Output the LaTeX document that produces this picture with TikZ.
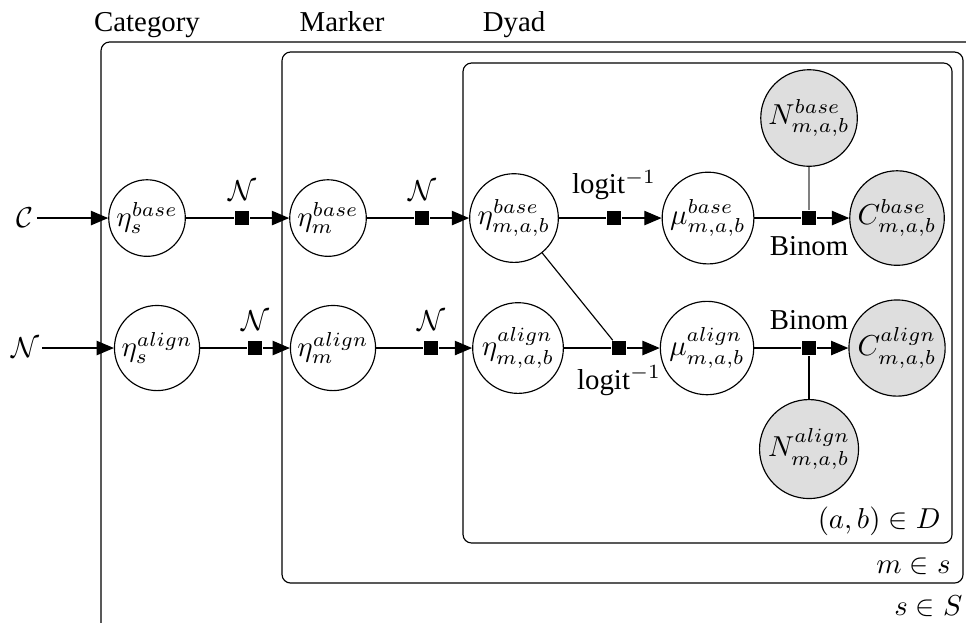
\documentclass[tikz,border=0pt]{standalone}
\usepackage[no-math]{fontspec}
\setmainfont{Liberation Serif}
\usepackage{amsmath}
\usepackage{amssymb}
\usetikzlibrary{arrows.meta}

\begin{document}
\begin{tikzpicture}[latent/.style={
                        circle,
                        draw=black,
                        fill=white,
                        inner sep=1pt,
                        minimum size=20pt},
                    obs/.style={latent,fill=black!13},
                    factor/.style={rectangle,fill=black,inner sep=0pt,minimum size=5pt},
                    edge/.style={-{Triangle[length=6pt,width=5pt]}},
                    plate/.style={rounded corners=3pt},
                    plate label/.style={anchor=east,inner sep=0pt}]
\useasboundingbox (0,0) rectangle (11.78,-7.585);
\clip (0,0) rectangle (11.78,-7.585); % the outer plate runs past the frame
\def\ya{-2.659}\def\yb{-4.244} % the two rows
% plates
\draw[plate] (1.232,-8.3) rectangle (12.5,-0.512);
\draw[plate] (3.439,-7.110) rectangle (11.744,-0.634);
\draw[plate] (5.646,-6.622) rectangle (11.610,-0.768);
\node[plate label] (lblS) at (11.744,-7.39) {$s \in S$};
\node[plate label] (lblM) at (11.598,-6.902) {$m \in s$};
\node[plate label] (lblD) at (11.476,-6.354) {$(a,b) \in D$};
\node[anchor=base] (titleS) at (1.793,-0.39) {Category};
\node[anchor=base] (titleM) at (4.171,-0.39) {Marker};
\node[anchor=base] (titleD) at (6.268,-0.39) {Dyad};
% priors
\node[inner sep=1pt] (priorC) at (0.305,\ya) {$\mathcal{C}$};
\node[inner sep=1pt] (priorN) at (0.305,\yb) {$\mathcal{N}$};
% variables
\node[latent] (etaSb) at (1.793,\ya) {$\eta_s^{base}$};
\node[latent] (etaSa) at (1.915,\yb) {$\eta_s^{align}$};
\node[latent] (etaMb) at (4.0,\ya) {$\eta_m^{base}$};
\node[latent] (etaMa) at (4.061,\yb) {$\eta_m^{align}$};
\node[latent] (etaDb) at (6.268,\ya) {$\eta_{m,a,b}^{base}$};
\node[latent] (etaDa) at (6.317,\yb) {$\eta_{m,a,b}^{align}$};
\node[latent] (muDb) at (8.634,\ya) {$\mu_{m,a,b}^{base}$};
\node[latent] (muDa) at (8.622,\yb) {$\mu_{m,a,b}^{align}$};
\node[obs] (CDb) at (10.939,\ya) {$C_{m,a,b}^{base}$};
\node[obs] (CDa) at (10.939,\yb) {$C_{m,a,b}^{align}$};
\node[obs] (NDb) at (9.866,-1.439) {$N_{m,a,b}^{base}$};
\node[obs] (NDa) at (9.866,-5.476) {$N_{m,a,b}^{align}$};
% factors
\node[factor,label=above:$\mathcal{N}$] (fSb) at (2.951,\ya) {};
\node[factor,label=above:$\mathcal{N}$] (fSa) at (3.110,\yb) {};
\node[factor,label=above:$\mathcal{N}$] (fMb) at (5.146,\ya) {};
\node[factor,label=above:$\mathcal{N}$] (fMa) at (5.256,\yb) {};
\node[factor,label=above:logit$^{-1}$] (fLb) at (7.488,\ya) {};
\node[factor,label=below:logit$^{-1}$] (fLa) at (7.549,\yb) {};
\node[factor,label=below:Binom] (fBb) at (9.866,\ya) {};
\node[factor,label=above:Binom] (fBa) at (9.866,\yb) {};
% connectors
\draw[edge] (priorC) -- (etaSb);
\draw[edge] (priorN) -- (etaSa);
\draw (etaSb) -- (fSb); \draw[edge] (fSb) -- (etaMb);
\draw (etaSa) -- (fSa); \draw[edge] (fSa) -- (etaMa);
\draw (etaMb) -- (fMb); \draw[edge] (fMb) -- (etaDb);
\draw (etaMa) -- (fMa); \draw[edge] (fMa) -- (etaDa);
\draw (etaDb) -- (fLb); \draw[edge] (fLb) -- (muDb);
\draw (etaDa) -- (fLa); \draw[edge] (fLa) -- (muDa);
\draw (etaDb) -- (fLa); % base enters the align link too
\draw (muDb) -- (fBb); \draw[edge] (fBb) -- (CDb);
\draw (muDa) -- (fBa); \draw[edge] (fBa) -- (CDa);
\draw[black!50] (NDb) -- (fBb);
\draw (NDa) -- (fBa);
\end{tikzpicture}
\end{document}
